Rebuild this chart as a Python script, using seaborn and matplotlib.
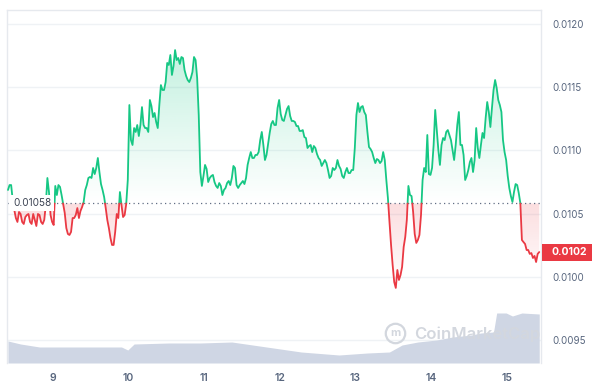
import numpy as np
import pandas as pd
import matplotlib
matplotlib.use('Agg')
import matplotlib.pyplot as plt
import matplotlib.dates as mdates
import matplotlib.transforms as mtransforms
from matplotlib.colors import to_rgb
from matplotlib.lines import Line2D
from matplotlib.patches import Rectangle
from matplotlib.path import Path
from matplotlib.ticker import FormatStrFormatter
import seaborn as sns

# half-hourly price samples over the 7 day window
start = '2024-06-08 09:50'
price = [
    0.010687, 0.010726, 0.010726, 0.010608, 0.010529, 0.010465, 0.010434, 0.010513,
    0.010497, 0.010434, 0.010418, 0.010473, 0.010489, 0.010497, 0.010434, 0.010418,
    0.010497, 0.010450, 0.010402, 0.010497, 0.010489, 0.010434, 0.010418, 0.010450,
    0.010568, 0.010782, 0.010671, 0.010489, 0.010434, 0.010410, 0.010719, 0.010647,
    0.010726, 0.010711, 0.010647, 0.010576, 0.010505, 0.010386, 0.010339, 0.010331,
    0.010355, 0.010465, 0.010465, 0.010489, 0.010544, 0.010465, 0.010521, 0.010552,
    0.010592, 0.010687, 0.010726, 0.010782, 0.010790, 0.010782, 0.010861, 0.010813,
    0.010861, 0.010940, 0.010829, 0.010734, 0.010687, 0.010631, 0.010544, 0.010450,
    0.010386, 0.010307, 0.010252, 0.010252, 0.010355, 0.010497, 0.010465, 0.010671,
    0.010568, 0.010473, 0.010489, 0.010576, 0.010766, 0.011359, 0.011082, 0.011043,
    0.011177, 0.011146, 0.011201, 0.011114, 0.011201, 0.011343, 0.011201, 0.011177,
    0.011177, 0.011146, 0.011399, 0.011351, 0.011264, 0.011296, 0.011225, 0.011177,
    0.011359, 0.011517, 0.011478, 0.011478, 0.011541, 0.011692, 0.011676, 0.011755,
    0.011597, 0.011668, 0.011794, 0.011715, 0.011731, 0.011684, 0.011739, 0.011731,
    0.011636, 0.011589, 0.011557, 0.011541, 0.011573, 0.011620, 0.011739, 0.011715,
    0.011573, 0.011280, 0.010829, 0.010719, 0.010798, 0.010885, 0.010853, 0.010750,
    0.010782, 0.010798, 0.010806, 0.010750, 0.010719, 0.010703, 0.010742, 0.010719,
    0.010647, 0.010687, 0.010703, 0.010742, 0.010758, 0.010726, 0.010782, 0.010877,
    0.010861, 0.010726, 0.010703, 0.010726, 0.010742, 0.010758, 0.010734, 0.010782,
    0.010885, 0.010940, 0.010987, 0.010940, 0.010940, 0.010964, 0.010964, 0.010987,
    0.011082, 0.011146, 0.011043, 0.010924, 0.010964, 0.011051, 0.011138, 0.011209,
    0.011233, 0.011201, 0.011201, 0.011336, 0.011399, 0.011288, 0.011241, 0.011233,
    0.011280, 0.011328, 0.011351, 0.011272, 0.011233, 0.011233, 0.011225, 0.011193,
    0.011193, 0.011154, 0.011154, 0.011161, 0.011106, 0.011098, 0.011019, 0.011035,
    0.011043, 0.010987, 0.011035, 0.011019, 0.010972, 0.010940, 0.010924, 0.010877,
    0.010900, 0.010924, 0.010900, 0.010845, 0.010782, 0.010798, 0.010861, 0.010845,
    0.010861, 0.010924, 0.010877, 0.010853, 0.010798, 0.010782, 0.010829, 0.010861,
    0.010821, 0.010821, 0.010845, 0.010845, 0.011019, 0.011280, 0.011375, 0.011304,
    0.011343, 0.011351, 0.011304, 0.011280, 0.011146, 0.011027, 0.011011, 0.010987,
    0.010940, 0.010900, 0.010932, 0.010924, 0.010900, 0.010916, 0.010987, 0.010924,
    0.010766, 0.010624, 0.010434, 0.010252, 0.010094, 0.009959, 0.009912, 0.010054,
    0.009975, 0.010014, 0.010078, 0.010236, 0.010315, 0.010450, 0.010719, 0.010647,
    0.010639, 0.010513, 0.010339, 0.010268, 0.010291, 0.010331, 0.010489, 0.010766,
    0.010861, 0.010829, 0.011122, 0.010813, 0.010806, 0.010861, 0.011043, 0.011320,
    0.011161, 0.011003, 0.010885, 0.011043, 0.011098, 0.011082, 0.011146, 0.011161,
    0.011122, 0.011082, 0.011003, 0.010924, 0.011043, 0.011201, 0.011304, 0.011043,
    0.011043, 0.010964, 0.010766, 0.010798, 0.010845, 0.010908, 0.010940, 0.010829,
    0.010924, 0.011177, 0.011019, 0.010940, 0.011043, 0.011138, 0.011098, 0.011256,
    0.011383, 0.011304, 0.011185, 0.011336, 0.011478, 0.011557, 0.011494, 0.011399,
    0.011359, 0.011304, 0.011082, 0.010987, 0.010924, 0.010798, 0.010703, 0.010639,
    0.010592, 0.010671, 0.010734, 0.010726, 0.010663, 0.010584, 0.010291, 0.010275,
    0.010260, 0.010212, 0.010212, 0.010181, 0.010188, 0.010149, 0.010165, 0.010117,
    0.010181, 0.010196,
]
base_price = 0.01058

# volume profile (hours from start, millions USD)
vol_hours = [0, 4, 10, 23, 36, 38, 40, 51, 61, 71, 82, 93, 105, 114, 121, 125,
             130, 136, 141, 147, 150, 154, 155, 158, 160, 162, 163, 168.5]
volume = [2.2, 1.9, 1.6, 1.6, 1.6, 1.3, 1.9, 2.0, 2.0, 2.1, 1.6, 1.1, 0.8, 1.0,
          1.1, 1.8, 2.1, 2.3, 2.6, 2.8, 3.0, 3.1, 5.0, 5.0, 4.7, 4.9, 5.0, 4.9]

y_ticks = [0.0095, 0.0100, 0.0105, 0.0110, 0.0115, 0.0120]
day_ticks = ['2024-06-09', '2024-06-10', '2024-06-11', '2024-06-12',
             '2024-06-13', '2024-06-14', '2024-06-15']
day_labels = ['9', '10', '11', '12', '13', '14', '15']

GREEN = '#16c784'
RED = '#ea3943'
GREY = '#58667e'
GRID = '#eff2f5'
VOL = '#cfd6e4'
WM = '#d3d7de'

sns.set_style('white')
plt.rcParams['font.family'] = ['Inter', 'DejaVu Sans']

times = pd.date_range(start, periods=len(price), freq='30min')
tn = mdates.date2num(times)
p = np.array(price)
vol_t = mdates.date2num(pd.Timestamp(start) + pd.to_timedelta(vol_hours, unit='h'))

# insert the points where the line crosses the open price
xs, ys = [tn[0]], [p[0]]
for i in range(1, len(p)):
    if (p[i - 1] - base_price) * (p[i] - base_price) < 0:
        f = (base_price - p[i - 1]) / (p[i] - p[i - 1])
        xs.append(tn[i - 1] + f * (tn[i] - tn[i - 1]))
        ys.append(base_price)
    xs.append(tn[i])
    ys.append(p[i])
xs = np.array(xs)
ys = np.array(ys)

rows = []
seg = 0
for j in range(len(xs)):
    rows.append((seg, xs[j], ys[j]))
    if ys[j] == base_price and 0 < j < len(xs) - 1:
        seg += 1
        rows.append((seg, xs[j], ys[j]))
line_df = pd.DataFrame(rows, columns=['seg', 't', 'price'])
above = line_df.groupby('seg')['price'].mean() >= base_price
line_df['up'] = line_df['seg'].map(above)

fig = plt.figure(figsize=(5.92, 3.83), dpi=100)
ax = fig.add_axes([7 / 592, 20 / 383, 534 / 592, 353 / 383])


def gradient_fill(mask, color, y_lo, y_hi, a_lo, a_hi):
    coll = ax.fill_between(xs, ys, base_price, where=mask, interpolate=True,
                           facecolor='none', edgecolor='none')
    path = Path.make_compound_path(*coll.get_paths())
    coll.remove()
    grad = np.zeros((256, 1, 4))
    grad[:, 0, :3] = to_rgb(color)
    grad[:, 0, 3] = np.linspace(a_lo, a_hi, 256)
    im = ax.imshow(grad, extent=[xs[0], xs[-1], y_lo, y_hi], origin='lower',
                   aspect='auto', interpolation='bilinear', zorder=1)
    im.set_clip_path(path, ax.transData)


gradient_fill(ys >= base_price, GREEN, base_price, 0.01211, 0.0, 0.32)
gradient_fill(ys <= base_price, RED, 0.0099, base_price, 0.0, 0.17)

sns.lineplot(data=line_df[line_df['up']], x='t', y='price', units='seg',
             estimator=None, color=GREEN, lw=1.3, ax=ax, zorder=3, legend=False)
sns.lineplot(data=line_df[~line_df['up']], x='t', y='price', units='seg',
             estimator=None, color=RED, lw=1.3, ax=ax, zorder=3, legend=False)

ax.axhline(base_price, color='#616e85', ls=(0, (1, 2.6)), lw=0.9, zorder=2)
blend_ax = mtransforms.blended_transform_factory(ax.transAxes, ax.transData)
ax.text(6 / 534, base_price, f'{base_price:.5f}', transform=blend_ax,
        ha='left', va='center', fontsize=7.2, color='#3d4454', zorder=6,
        bbox=dict(boxstyle='square,pad=0.3', fc='white', ec='none'))

# volume on its own scale at the bottom
ax2 = ax.twinx()
ax2.fill_between(vol_t, volume, color=VOL, lw=0, zorder=1)
ax2.set_ylim(0, 35.3)
ax2.set_yticks([])
for s in ax2.spines.values():
    s.set_visible(False)

ax.yaxis.tick_right()
ax.set_yticks(y_ticks)
ax.yaxis.set_major_formatter(FormatStrFormatter('%.4f'))
ax.set_xticks(mdates.date2num(pd.to_datetime(day_ticks)), day_labels,
              fontweight='semibold')
ax.tick_params(axis='y', length=0, pad=8, labelsize=7, labelcolor=GREY)
ax.tick_params(axis='x', length=0, pad=7, labelsize=7.5, labelcolor=GREY)
ax.set_xlabel('')
ax.set_ylabel('')
ax.yaxis.grid(True, color=GRID, lw=1)
ax.xaxis.grid(False)
ax.set_xlim(tn[0] - 0.013, tn[0] + 7.044)
ax.set_ylim(0.009318, 0.012111)
ax2.set_xlim(ax.get_xlim())
for s in ['top', 'left', 'right']:
    ax.spines[s].set_color('#e6e9ee')
    ax.spines[s].set_linewidth(1)
ax.spines['bottom'].set_visible(False)

# current price badge
blend_fig = mtransforms.blended_transform_factory(fig.transFigure, ax.transData)
ax.add_patch(Rectangle((542 / 592, p[-1] - 0.0000672), 50 / 592, 0.0001345,
                       transform=blend_fig, facecolor=RED, edgecolor='none',
                       clip_on=False, zorder=6))
ax.text(551 / 592, p[-1], f'{p[-1]:.4f}', transform=blend_fig, ha='left',
        va='center', color='white', fontsize=7.5, fontweight='bold',
        zorder=7, clip_on=False)

# watermark
fig.add_artist(Line2D([395 / 592], [1 - 333 / 383], marker='o', ms=14,
                      mfc='none', mec=WM, mew=1.6, transform=fig.transFigure))
fig.text(395 / 592, 1 - 333 / 383, 'm', fontsize=8, fontweight='bold',
         color=WM, ha='center', va='center')
fig.text(414 / 592, 1 - 334 / 383, 'CoinMarketCap', fontsize=12,
         fontweight='semibold', color=WM, ha='left', va='center')

fig.savefig('out.png', dpi=100)
